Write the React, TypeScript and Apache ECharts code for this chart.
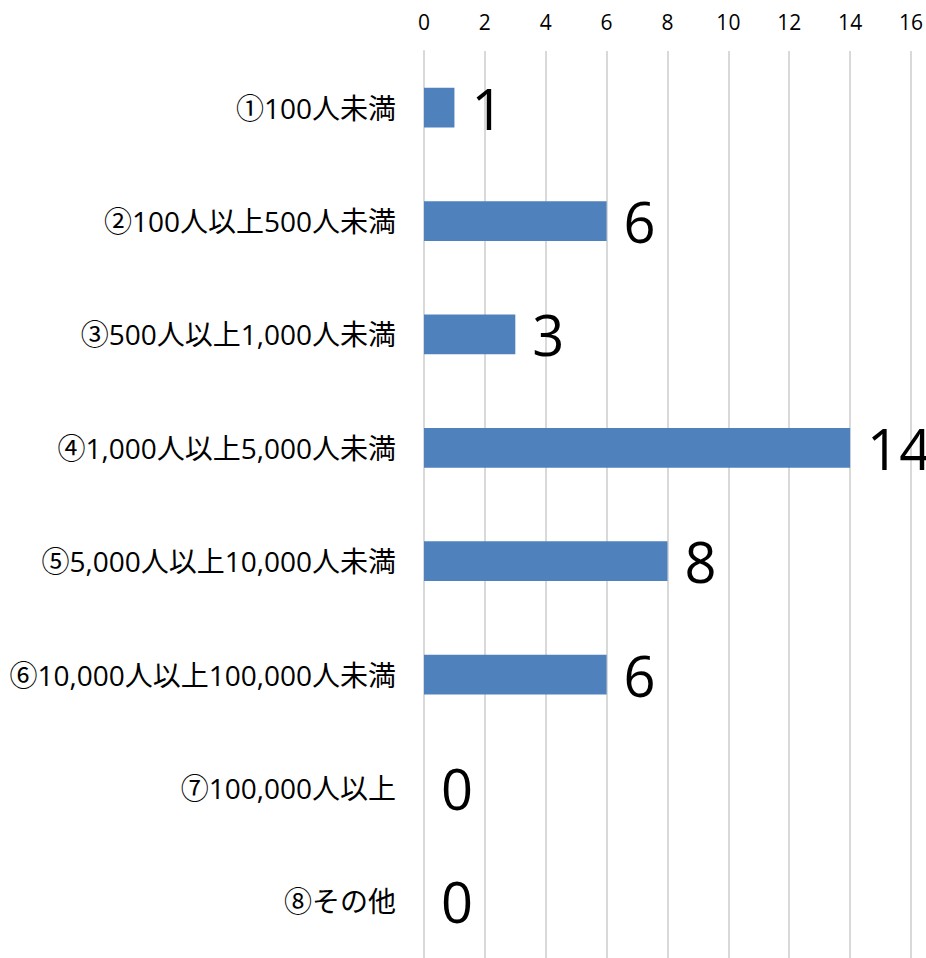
import React, { useEffect, useRef } from "react";
import * as echarts from "echarts";

const categories = [
  "①100人未満",
  "②100人以上500人未満",
  "③500人以上1,000人未満",
  "④1,000人以上5,000人未満",
  "⑤5,000人以上10,000人未満",
  "⑥10,000人以上100,000人未満",
  "⑦100,000人以上",
  "⑧その他",
];
const counts = [1, 6, 3, 14, 8, 6, 0, 0];
const axisMin = 0;
const axisMax = 16;
const axisStep = 2;

export default function App() {
  const ref = useRef<HTMLDivElement>(null);
  useEffect(() => {
    document.body.style.margin = "0";
    const chart = echarts.init(ref.current!, null, { renderer: "svg" });
    chart.setOption({
      animation: false,
      backgroundColor: "#ffffff",
      grid: { left: 424, width: 489, top: 51, height: 910 },
      xAxis: {
        type: "value",
        position: "top",
        min: axisMin,
        max: axisMax,
        interval: axisStep,
        axisLine: { show: false },
        axisTick: { show: false },
        axisLabel: {
          margin: 19,
          fontSize: 21,
          color: "#000",
          fontFamily: "Open Sans",
        },
        splitLine: { show: true, lineStyle: { color: "#d9d9d9", width: 2 } },
      },
      yAxis: {
        type: "category",
        data: categories,
        inverse: true,
        axisLine: { show: true, lineStyle: { color: "#d9d9d9", width: 2 } },
        axisTick: { show: false },
        axisLabel: {
          margin: 28,
          fontSize: 28,
          color: "#000",
          fontFamily: "'Open Sans', 'Noto Sans CJK JP'",
        },
      },
      series: [
        {
          type: "bar",
          data: counts,
          barWidth: "35%",
          itemStyle: { color: "#4f81bd" },
          label: {
            show: true,
            position: "right",
            distance: 17,
            fontSize: 56,
            color: "#000",
            fontFamily: "Open Sans",
          },
        },
      ],
    });
    return () => chart.dispose();
  }, []);
  return <div ref={ref} style={{ width: 926, height: 958 }} />;
}
